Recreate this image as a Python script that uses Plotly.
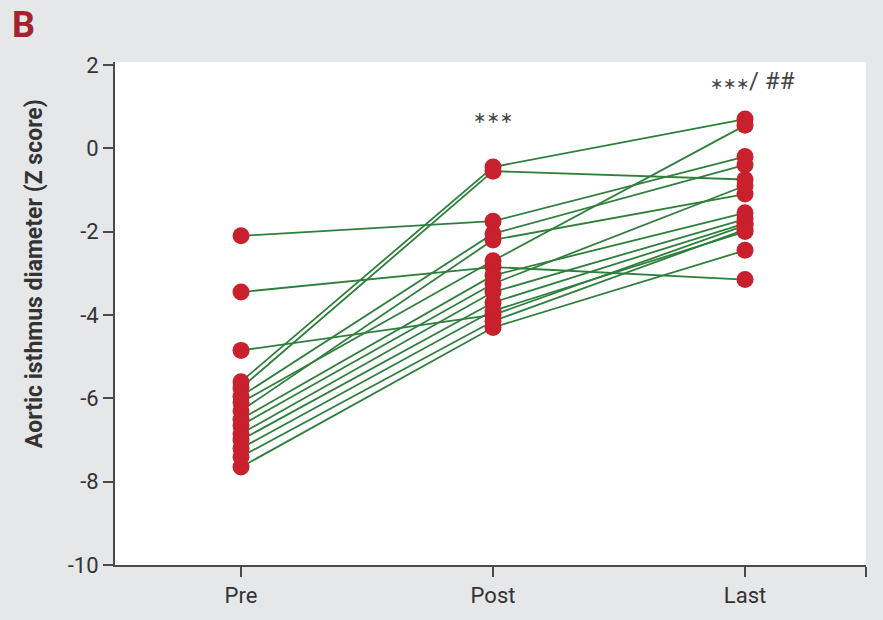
import plotly.graph_objects as go

# Time points and per-patient aortic isthmus Z scores
timepoints = ["Pre", "Post", "Last"]
tick_positions = [0, 1, 2]

pre_z = [-2.1, -3.45, -4.85, -5.6, -5.75, -5.95, -6.1, -6.3, -6.5, -6.65, -6.85, -7.0, -7.2, -7.4, -7.65]
post_z = [-1.75, -2.85, -4.0, -0.45, -0.55, -2.05, -2.7, -2.2, -3.05, -3.25, -3.45, -3.7, -3.9, -4.15, -4.3]
last_z = [-0.2, -3.15, -1.85, 0.7, -0.75, -0.4, 0.55, -1.1, -1.55, -0.9, -1.7, -1.8, -2.0, -1.95, -2.45]

y_ticks = [2, 0, -2, -4, -6, -8, -10]
post_sig = "∗∗∗"
last_sig = "<span style='font-size:16px'>∗∗∗</span>/ ##"

PAPER = "#e6e7e9"
RED = "#c8202c"
GREEN = "#2f7f3c"
AXIS = "#4a4a4a"
FONT = "Roboto, Liberation Sans, sans-serif"

fig = go.Figure()

# connecting lines, one per patient
for a, b, c in zip(pre_z, post_z, last_z):
    fig.add_trace(go.Scatter(
        x=tick_positions, y=[a, b, c], mode="lines",
        line=dict(color=GREEN, width=1.8),
        hoverinfo="skip", showlegend=False,
    ))

# markers on top of the lines
for xpos, vals in zip(tick_positions, [pre_z, post_z, last_z]):
    fig.add_trace(go.Scatter(
        x=[xpos] * len(vals), y=vals, mode="markers",
        marker=dict(color=RED, size=17, line=dict(width=0)),
        showlegend=False,
    ))

fig.update_layout(
    width=883, height=620,
    paper_bgcolor=PAPER, plot_bgcolor="white",
    margin=dict(l=115, r=17, t=62, b=53),
    font=dict(family=FONT, color="#333333", size=20),
    xaxis=dict(
        range=[-0.5, 2.48],
        tickvals=tick_positions + [2.48],
        ticktext=timepoints + [""],
        ticks="outside", ticklen=10, tickwidth=2, tickcolor=AXIS,
        showline=True, linecolor=AXIS, linewidth=2,
        showgrid=False, zeroline=False,
        tickfont=dict(size=22, family=FONT, color="#333333"),
    ),
    yaxis=dict(
        range=[-10, 2.07],
        tickvals=y_ticks,
        ticktext=[str(v) for v in y_ticks],
        ticks="outside", ticklen=10, tickwidth=2, tickcolor=AXIS,
        showline=True, linecolor=AXIS, linewidth=2,
        showgrid=False, zeroline=False,
        tickfont=dict(size=22, family=FONT, color="#333333"),
    ),
)

annotations = [
    # axis title
    dict(text="<b>Aortic isthmus diameter (Z score)</b>", xref="paper", yref="paper",
         x=-0.108, y=0.58, textangle=-90, showarrow=False,
         font=dict(size=23, family=FONT, color="#333333"),
         xanchor="center", yanchor="middle"),
    # panel letter
    dict(text="<b>B</b>", xref="paper", yref="paper", x=-0.1225, y=1.073,
         xanchor="center", yanchor="middle", showarrow=False,
         font=dict(size=36, family=FONT, color="#a3222e")),
    # significance markers
    dict(text=post_sig, x=1, y=0.75, xref="x", yref="y", showarrow=False,
         font=dict(size=16, family="DejaVu Sans", color="#444444")),
    dict(text=last_sig, x=2.03, y=1.62, xref="x", yref="y", showarrow=False,
         font=dict(size=24, family=FONT, color="#444444")),
]
fig.update_layout(annotations=annotations)

fig.write_html("out.html")
